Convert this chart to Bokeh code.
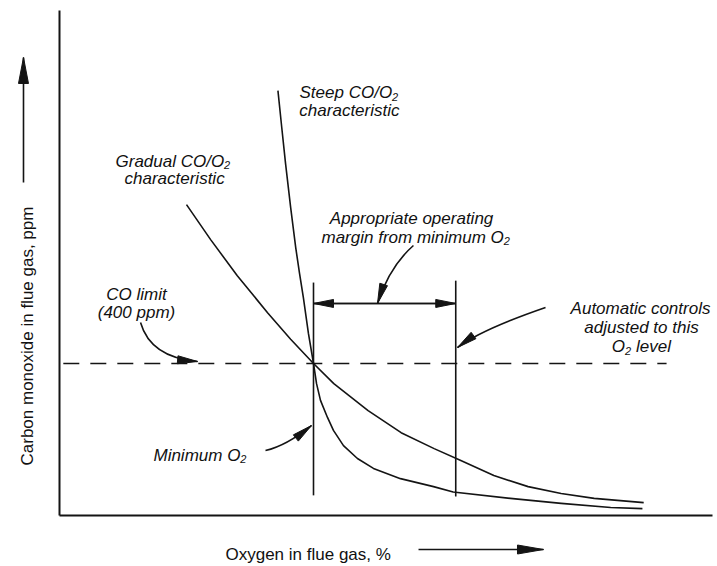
import math
from bokeh.plotting import figure
from bokeh.models import Range1d, LinearAxis, FixedTicker
from bokeh.core.properties import value
from bokeh.embed import file_html
from bokeh.resources import INLINE

# ---------------- data (schematic: O2 in %, CO in ppm) ----------------
gradual_o2 = [1.00, 1.19, 1.40, 1.64, 1.82, 2.00, 2.16, 2.43, 2.69, 2.95, 3.16, 3.42, 3.69, 3.95, 4.21, 4.60]
gradual_co = [818, 726, 631, 533, 464, 400, 347, 276, 218, 176, 145, 105, 76, 58, 45, 34]

steep_o2 = [1.72, 1.75, 1.78, 1.82, 1.86, 1.89, 1.92, 1.96, 2.00, 2.024, 2.055, 2.11, 2.157, 2.236,
            2.346, 2.472, 2.685, 2.945, 3.10, 3.55, 3.95, 4.34, 4.59]
steep_co = [1118, 1021, 926, 811, 705, 637, 574, 479, 400, 347, 303, 258, 224, 184,
            150, 124, 97, 76, 62, 45, 32, 21, 18]

co_limit = 400
co_limit_span = [0.03, 4.78]
min_o2 = 2.00
control_o2 = 3.12
min_o2_line_co = [53, 613]
control_o2_line_co = [50, 618]
margin_arrow_co = 558
axis_o2_end = 5.14
axis_co_end = 1329

x_label = "Oxygen in flue gas, %"
y_label = "Carbon monoxide in flue gas, ppm"

# ---------------- figure ----------------
PX_X = 127.0          # px per % O2
PX_Y = 152.0 / 400.0  # px per ppm
W, H = 717, 566
x0 = -59 / PX_X
y0 = -51 / PX_Y
INK = "#141414"
FONT = value("Liberation Sans")

p = figure(width=W, height=H,
           x_range=Range1d(x0, x0 + W / PX_X), y_range=Range1d(y0, y0 + H / PX_Y),
           output_backend="svg", toolbar_location=None, min_border=0,
           x_axis_type=None, y_axis_type=None, background_fill_color="white")
p.outline_line_color = None


def make_axis(loc, bounds):
    return LinearAxis(fixed_location=loc, bounds=bounds, ticker=FixedTicker(ticks=[]),
                      major_tick_out=0, major_tick_in=0, minor_tick_out=0, minor_tick_in=0,
                      major_label_standoff=0, major_label_text_font_size="0px",
                      axis_line_width=2, axis_line_color=INK)


p.add_layout(make_axis(0, (0, axis_o2_end)), "below")
p.add_layout(make_axis(0, (0, axis_co_end)), "left")

# curves
p.line(gradual_o2, gradual_co, line_color=INK, line_width=1.6, line_join="round")
p.line(steep_o2, steep_co, line_color=INK, line_width=1.6, line_join="round")

# CO limit dashed line
p.line(co_limit_span, [co_limit, co_limit], line_color=INK, line_width=1.6, line_dash="16 11")

# vertical lines at minimum O2 and control level
p.segment(x0=[min_o2, control_o2], y0=[min_o2_line_co[0], control_o2_line_co[0]],
          x1=[min_o2, control_o2], y1=[min_o2_line_co[1], control_o2_line_co[1]],
          line_color=INK, line_width=1.6)


def head(tip, frm, length, width):
    dx = (tip[0] - frm[0]) * PX_X
    dy = (tip[1] - frm[1]) * PX_Y
    n = math.hypot(dx, dy)
    ux, uy = dx / n, dy / n
    bx, by = -ux * length, -uy * length
    qx, qy = -uy * width / 2, ux * width / 2
    xs = [tip[0], tip[0] + (bx + qx) / PX_X, tip[0] + (bx - qx) / PX_X]
    ys = [tip[1], tip[1] + (by + qy) / PX_Y, tip[1] + (by - qy) / PX_Y]
    return xs, ys


heads_x, heads_y = [], []

# straight arrows: (start, tip, head length px, head width px)
straight = [
    ((-0.2835, 876.3), (-0.2835, 1205.3), 26, 10),   # y-axis label arrow
    ((2.827, -89.5), (3.811, -89.5), 26, 9),          # x-axis label arrow
    ((control_o2, margin_arrow_co), (min_o2, margin_arrow_co), 20, 8),
    ((min_o2, margin_arrow_co), (control_o2, margin_arrow_co), 20, 8),
]
p.segment(x0=[s[0][0] for s in straight], y0=[s[0][1] for s in straight],
          x1=[s[1][0] for s in straight], y1=[s[1][1] for s in straight],
          line_color=INK, line_width=1.6)
for s, t, L, Wd in straight:
    hx, hy = head(t, s, L, Wd)
    heads_x.append(hx)
    heads_y.append(hy)

# curved pointer arrows: (start, control, tip)
curved = [
    ((0.638, 507.9), (0.717, 415.8), (1.087, 405.3)),   # CO limit
    ((2.787, 710.5), (2.598, 655.3), (2.504, 557.9)),   # operating margin
    ((3.827, 547.4), (3.323, 489.5), (3.134, 442.1)),   # automatic controls
    ((1.622, 171.1), (1.787, 184.2), (1.984, 236.8)),   # minimum O2
]
p.quadratic(x0=[c[0][0] for c in curved], y0=[c[0][1] for c in curved],
            x1=[c[2][0] for c in curved], y1=[c[2][1] for c in curved],
            cx=[c[1][0] for c in curved], cy=[c[1][1] for c in curved],
            line_color=INK, line_width=1.6)
for s, c, t in curved:
    hx, hy = head(t, c, 20, 8)
    heads_x.append(hx)
    heads_y.append(hy)

p.patches(heads_x, heads_y, fill_color=INK, line_color=INK, line_width=1)

# ---------------- texts ----------------
TXT = "#111111"


def texts(xs, ys, ts, align="left", size="17px", style="italic", angle=0):
    p.text(x=xs, y=ys, text=ts, text_font=FONT, text_font_size=size,
           text_font_style=style, text_color=TXT, text_align=align,
           text_baseline="alphabetic", angle=angle)


# left-aligned italic lines
texts([1.890, 0.441, 2.063, 0.740, 4.349, 4.539],
      [1113.2, 931.6, 731.6, 157.9, 444.7, 444.7],
      ["Steep CO/O", "Gradual CO/O", "margin from minimum O", "Minimum O", "O", "level"])
# subscripts "2"
texts([2.619, 1.296, 3.498, 1.424, 4.453],
      [1102.6, 921.1, 721.1, 147.4, 434.2],
      ["2", "2", "2", "2", "2"], size="11px")
# centred italic lines
texts([2.283, 0.906, 2.772, 0.606, 0.606, 4.575, 4.583],
      [1065.8, 886.8, 781.6, 581.6, 534.2, 544.7, 494.7],
      ["characteristic", "characteristic", "Appropriate operating", "CO limit", "(400 ppm)",
       "Automatic controls", "adjusted to this"], align="center")

# axis titles
texts([1.307], [-102.6], [x_label], style="normal")
texts([-0.252], [131.6], [y_label], style="normal", angle=math.pi / 2)

open("out.html", "w").write(file_html(p, INLINE))
